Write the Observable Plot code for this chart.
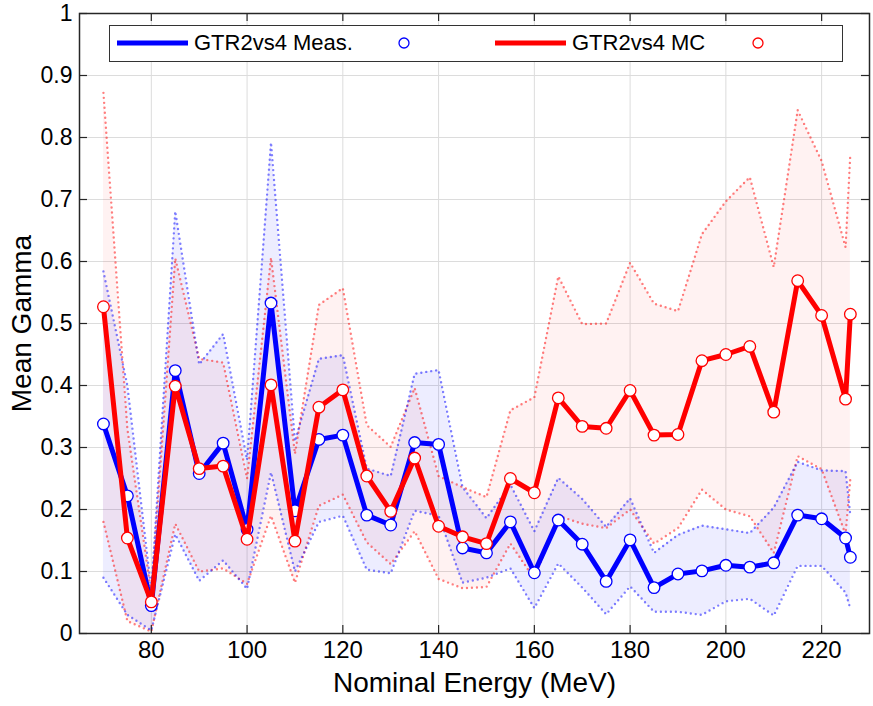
<!DOCTYPE html>
<html><head><meta charset="utf-8">
<script src="https://cdn.jsdelivr.net/npm/d3@7"></script>
<script src="https://cdn.jsdelivr.net/npm/@observablehq/plot@0.6"></script>
<style>
body{margin:0;background:#fff;font-family:"Liberation Sans",Arial,sans-serif;}
#wrap{position:relative;width:873px;height:706px;}
#legend{position:absolute;left:109px;top:25px;width:734px;height:37px;border:1.5px solid #333;background:#fff;box-sizing:border-box;}
.lg{position:absolute;top:0;height:34px;}
.lt{position:absolute;top:5px;font-size:22px;color:#000;white-space:nowrap;line-height:24px;}
</style></head>
<body><div id="wrap"></div>
<script>
const energy = [70,75,80,85,90,95,100,105,110,115,120,125,130,135,140,145,150,155,160,165,170,175,180,185,190,195,200,205,210,215,220,225,226];
const measMean = [0.338,0.222,0.045,0.424,0.258,0.307,0.168,0.533,0.198,0.313,0.320,0.191,0.175,0.308,0.305,0.138,0.130,0.180,0.098,0.183,0.144,0.084,0.151,0.074,0.096,0.101,0.110,0.107,0.114,0.191,0.185,0.154,0.123];
const measUpper = [0.584,0.40,0.07,0.681,0.434,0.483,0.28,0.792,0.31,0.443,0.449,0.266,0.254,0.419,0.425,0.236,0.186,0.24,0.165,0.251,0.217,0.172,0.218,0.13,0.159,0.174,0.168,0.162,0.203,0.277,0.263,0.262,0.19];
const measLower = [0.09,0.03,0.005,0.16,0.085,0.118,0.072,0.26,0.10,0.18,0.19,0.103,0.097,0.198,0.19,0.082,0.09,0.105,0.041,0.113,0.074,0.031,0.076,0.035,0.035,0.03,0.052,0.056,0.029,0.109,0.109,0.066,0.04];
const mcMean = [0.527,0.154,0.051,0.399,0.266,0.270,0.152,0.401,0.149,0.365,0.393,0.254,0.197,0.283,0.173,0.156,0.145,0.250,0.227,0.380,0.334,0.331,0.392,0.320,0.321,0.440,0.450,0.463,0.357,0.569,0.513,0.378,0.515];
const mcUpper = [0.872,0.33,0.065,0.605,0.443,0.437,0.25,0.606,0.29,0.53,0.557,0.336,0.301,0.396,0.254,0.236,0.22,0.36,0.381,0.576,0.499,0.5,0.598,0.532,0.52,0.644,0.697,0.736,0.591,0.844,0.762,0.623,0.774];
const mcLower = [0.18,0.02,0.003,0.177,0.10,0.105,0.08,0.19,0.082,0.206,0.224,0.147,0.112,0.165,0.088,0.073,0.075,0.145,0.088,0.19,0.177,0.17,0.20,0.145,0.17,0.232,0.2,0.189,0.13,0.286,0.265,0.16,0.25];
const xTicks = [80,100,120,140,160,180,200,220];
const yTicks = [0,0.1,0.2,0.3,0.4,0.5,0.6,0.7,0.8,0.9,1];
const yTickLabels = ["0","0.1","0.2","0.3","0.4","0.5","0.6","0.7","0.8","0.9","1"];
const seriesNames = ["GTR2vs4 Meas.","GTR2vs4 MC"];
const xLabel = "Nominal Energy (MeV)";
const yLabel = "Mean Gamma";

const rows = energy.map((e,i)=>({e, meas:measMean[i], mu:measUpper[i], ml:measLower[i], mc:mcMean[i], cu:mcUpper[i], cl:mcLower[i]}));
const BLUE="#0000ff", RED="#ff0000", AX="#262626";
const xDom=[65,230], yDom=[0,1];
const tx = (xDom[1]-xDom[0])*8/790, ty = 8/620;
const dotted = {strokeOpacity:0.5, strokeWidth:2.4, strokeDasharray:"0,5", strokeLinecap:"round"};

const chart = Plot.plot({
  width:873, height:706,
  marginLeft:79, marginRight:4, marginTop:13, marginBottom:73,
  style:{fontFamily:"'Liberation Sans', Arial, sans-serif", background:"white", color:"#000"},
  x:{domain:xDom},
  y:{domain:yDom},
  marks:[
    Plot.gridY(yTicks,{stroke:"#dcdcdc", strokeOpacity:1, strokeWidth:1}),
    Plot.gridX(xTicks,{stroke:"#dcdcdc", strokeOpacity:1, strokeWidth:1}),
    Plot.areaY(rows,{x:"e", y1:"cl", y2:"cu", fill:RED, fillOpacity:0.05}),
    Plot.areaY(rows,{x:"e", y1:"ml", y2:"mu", fill:BLUE, fillOpacity:0.07}),
    Plot.line(rows,{x:"e", y:"cu", stroke:RED, ...dotted}),
    Plot.line(rows,{x:"e", y:"cl", stroke:RED, ...dotted}),
    Plot.line(rows,{x:"e", y:"mu", stroke:BLUE, ...dotted}),
    Plot.line(rows,{x:"e", y:"ml", stroke:BLUE, ...dotted}),
    Plot.line(rows,{x:"e", y:"meas", stroke:BLUE, strokeWidth:5, strokeLinejoin:"round"}),
    Plot.dot(rows,{x:"e", y:"meas", r:5.8, fill:"white", stroke:BLUE, strokeWidth:1.3}),
    Plot.line(rows,{x:"e", y:"mc", stroke:RED, strokeWidth:5, strokeLinejoin:"round"}),
    Plot.dot(rows,{x:"e", y:"mc", r:5.8, fill:"white", stroke:RED, strokeWidth:1.3}),
    // inward ticks
    Plot.ruleX(xTicks,{x:d=>d, y1:0, y2:ty, stroke:AX, strokeWidth:1.2}),
    Plot.ruleX(xTicks,{x:d=>d, y1:1, y2:1-ty, stroke:AX, strokeWidth:1.2}),
    Plot.ruleY(yTicks,{y:d=>d, x1:xDom[0], x2:xDom[0]+tx, stroke:AX, strokeWidth:1.2}),
    Plot.ruleY(yTicks,{y:d=>d, x1:xDom[1], x2:xDom[1]-tx, stroke:AX, strokeWidth:1.2}),
    Plot.frame({stroke:AX, strokeWidth:1.5}),
    Plot.axisX({ticks:xTicks, tickFormat:d=>String(d), tickSize:0, tickPadding:7, fontSize:24, label:null}),
    Plot.axisY({ticks:yTicks, tickFormat:d=>yTickLabels[yTicks.indexOf(d)], tickSize:0, tickPadding:7, fontSize:23, label:null}),
    Plot.text([xLabel],{frameAnchor:"bottom", dy:58, text:d=>d, fontSize:28, fill:"#000"}),
    Plot.text([yLabel],{frameAnchor:"left", textAnchor:"middle", dx:-57, rotate:-90, text:d=>d, fontSize:28, fill:"#000"})
  ]
});
const wrap=document.getElementById("wrap");
wrap.appendChild(chart);

// legend
const lg=document.createElement("div"); lg.id="legend";
function item(color, x0, name, cx){
  const s=document.createElementNS("http://www.w3.org/2000/svg","svg");
  s.setAttribute("width","734"); s.setAttribute("height","34"); s.setAttribute("class","lg");
  s.style.left="0px";
  const l=document.createElementNS(s.namespaceURI,"line");
  l.setAttribute("x1",x0); l.setAttribute("x2",x0+71); l.setAttribute("y1",17); l.setAttribute("y2",17);
  l.setAttribute("stroke",color); l.setAttribute("stroke-width",5);
  s.appendChild(l);
  const c=document.createElementNS(s.namespaceURI,"circle");
  c.setAttribute("cx",cx); c.setAttribute("cy",17); c.setAttribute("r",5);
  c.setAttribute("fill","white"); c.setAttribute("stroke",color); c.setAttribute("stroke-width",1.3);
  s.appendChild(c);
  lg.appendChild(s);
  const t=document.createElement("div"); t.className="lt"; t.textContent=name; t.style.left=(x0+77)+"px";
  lg.appendChild(t);
}
item(BLUE, 7, seriesNames[0], 294);
item(RED, 385, seriesNames[1], 648);
wrap.appendChild(lg);
</script></body></html>
